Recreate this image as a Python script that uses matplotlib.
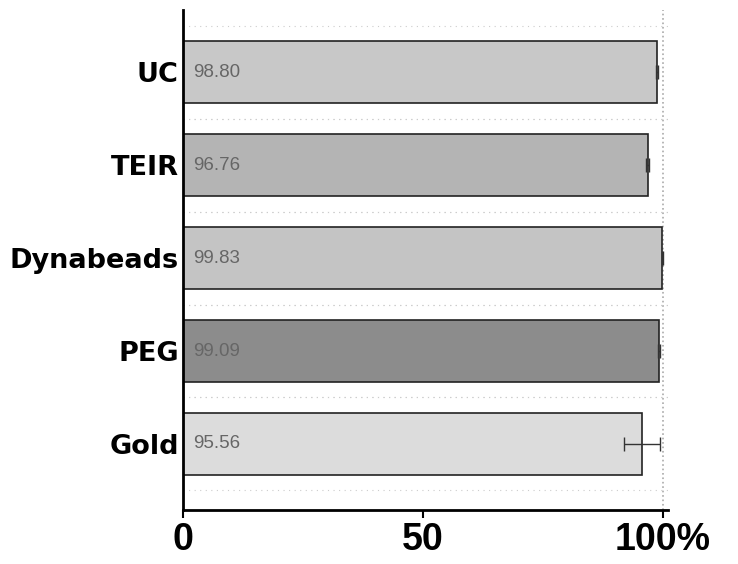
import numpy as np
import matplotlib.pyplot as plt

plt.rcParams['font.family'] = ['Liberation Sans', 'DejaVu Sans']

# Recovery (%) per isolation method, bottom to top
methods = ['Gold', 'PEG', 'Dynabeads', 'TEIR', 'UC']
recovery = [95.56, 99.09, 99.83, 96.76, 98.80]
errors = [3.8, 0.2, 0.1, 0.3, 0.2]
shades = ['#dcdcdc', '#8c8c8c', '#c4c4c4', '#b4b4b4', '#c8c8c8']

fig = plt.figure(figsize=(7.38, 5.64), dpi=100)
ax = fig.add_axes([0.248, 0.096, 0.657, 0.886])

y = np.arange(len(methods))
ax.barh(y, recovery, height=0.67, color=shades, edgecolor='#222222', linewidth=1.2,
        xerr=errors, error_kw=dict(ecolor='#333333', elinewidth=1, capsize=5, capthick=1),
        zorder=2)

for yi, val in zip(y, recovery):
    ax.text(2, yi, f'{val:.2f}', va='center', ha='left', fontsize=13.5, color='#666666', zorder=3)

# faint dotted guides
ax.axvline(100, color='#aaaaaa', linestyle=':', linewidth=1.2, zorder=1)
for yi in y:
    for off in (-0.5, 0.5):
        ax.axhline(yi + off, color='#cccccc', linestyle=(0, (1, 4)), linewidth=0.8, zorder=1)

ax.set_xlim(0, 101)
ax.set_ylim(-0.71, 4.67)
ax.set_yticks(y)
ax.set_yticklabels(methods, fontsize=19.5, fontweight='bold', family='DejaVu Sans')
ax.tick_params(axis='y', length=0, pad=3)
ax.set_xticks([0, 50, 100])
ax.set_xticklabels(['0', '50', '100%'], fontsize=27, fontweight='bold')
ax.tick_params(axis='x', length=6, width=1.5, pad=3)

for side in ['top', 'right']:
    ax.spines[side].set_visible(False)
for side in ['left', 'bottom']:
    ax.spines[side].set_linewidth(2)

plt.savefig('out.png', dpi=100)
